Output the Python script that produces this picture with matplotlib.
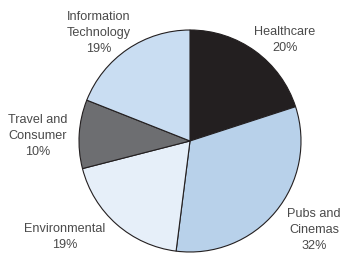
import matplotlib.pyplot as plt

# Data
labels = ["Healthcare", "Pubs and\nCinemas", "Environmental", "Travel and\nConsumer", "Information\nTechnology"]
shares = [20, 32, 19, 10, 19]
colors = ["#231f20", "#b8d1ea", "#e6eff9", "#6d6e71", "#c9ddf2"]

# label centers in pixel coords (x, y from top)
label_pos = [(285, 40), (314, 230), (65, 237), (38, 136), (99, 33)]

plt.rcParams["font.family"] = ["Liberation Sans", "DejaVu Sans"]

fig = plt.figure(figsize=(3.44, 2.54), dpi=100)
ax = fig.add_axes([0, 0, 1, 1])

ax.pie(shares, colors=colors, startangle=90, counterclock=False,
       center=(190, 254 - 141), radius=111, frame=True,
       wedgeprops=dict(edgecolor="#231f20", linewidth=0.8))
ax.set_xlim(0, 344)
ax.set_ylim(0, 254)
ax.set_aspect("equal")
ax.axis("off")

for lab, val, (x, y) in zip(labels, shares, label_pos):
    ax.text(x, 254 - y, f"{lab}\n{val}%", ha="center", va="center",
            fontsize=9.1, color="#4a4a4a", linespacing=1.4)

plt.savefig("out.png", dpi=100)
